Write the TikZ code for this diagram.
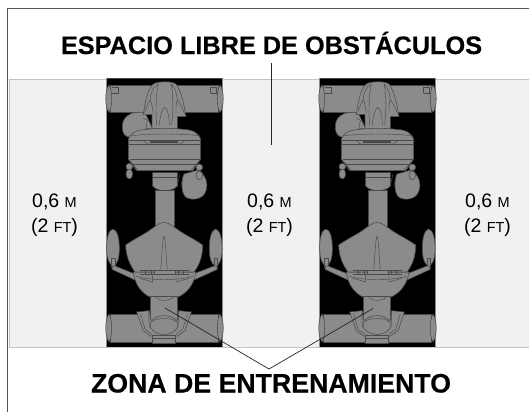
\documentclass[tikz,border=0pt]{standalone}
\usepackage{fontspec}
\setmainfont[BoldFeatures={FakeBold=0.35}]{Liberation Sans}
\definecolor{band}{HTML}{F1F1F1}
\definecolor{bandedge}{HTML}{C4C4C4}
\definecolor{part}{HTML}{8B8B8D}
\definecolor{partline}{HTML}{4A4A4C}
\definecolor{frameline}{HTML}{555555}
\newcommand{\smallunit}[1]{{\fontsize{14.5}{16}\selectfont #1}}
\tikzset{
  partshape/.style={fill=part,draw=partline,line width=0.55pt,line join=round},
  detail/.style={draw=partline,line width=0.45pt},
  darkdetail/.style={draw=partline,line width=1pt},
  titletext/.style={anchor=base,inner sep=0pt},
  measure/.style={font=\fontsize{19.5}{25}\selectfont,align=center,inner sep=0pt,anchor=base},
  leader/.style={draw=black!85,line width=0.7pt},
  machine/.pic={
    \begin{scope}[shift={(90,70)},scale=1/3]
      \fill[black] (50,25) rectangle (397,830);
      \draw[draw=part,line width=0.7pt] (50,25) -- (50,830) (397,25) -- (397,830);
      \draw[draw=partline,line width=0.7pt] (50,25) -- (397,25);
      \draw[partshape] (60,45) rectangle (386,126);
      \draw[partshape] (57,45) .. controls (44,60) and (44,112) .. (57,127) .. controls (68,112) and (68,60) .. (57,45) -- cycle;
      \draw[partshape] (390,45) .. controls (403,60) and (403,112) .. (390,127) .. controls (379,112) and (379,60) .. (390,45) -- cycle;
      \draw[detail] (66,52) -- (85,52) -- (85,70) -- (66,70) (362,70) -- (380,70) (362,52) -- (380,52) -- (380,70) (362,52) -- (362,70);
      \draw[partshape] (165,128) .. controls (130,122) and (100,135) .. (97,165) .. controls (95,190) and (105,205) .. (125,200) -- (190,180) -- cycle;
      \draw[detail] (160,145) -- (172,150) -- (168,176) -- (185,176);
      \draw[partshape] (160,134) .. controls (165,100) and (170,60) .. (190,42) .. controls (205,33) and (245,33) .. (258,42) .. controls (275,65) and (282,105) .. (288,140) -- (262,140) -- (262,180) -- (186,180) -- (186,134) -- cycle;
      \draw[detail] (164,128) .. controls (170,110) and (176,96) .. (180,90) .. controls (186,100) and (188,115) .. (190,130);
      \draw[detail] (284,132) .. controls (276,110) and (268,96) .. (262,90) .. controls (257,100) and (258,115) .. (258,128);
      \draw[detail] (180,90) .. controls (182,70) and (188,50) .. (205,42) .. controls (198,70) and (196,120) .. (200,165);
      \draw[detail] (262,90) .. controls (260,70) and (255,50) .. (243,42) .. controls (250,70) and (250,120) .. (245,165);
      \draw[detail] (208,165) .. controls (210,135) and (218,115) .. (224,112) .. controls (232,118) and (238,135) .. (238,165);
      \draw[partshape] (282,312) .. controls (274,330) and (272,370) .. (288,382) .. controls (305,392) and (340,390) .. (348,362) .. controls (356,340) and (345,312) .. (325,300) -- cycle;
      \draw[detail] (270,310) -- (262,350) (280,312) -- (272,350);
      \draw[partshape] (188,308) -- (262,308) -- (262,348) .. controls (250,366) and (200,366) .. (188,348) -- cycle;
      \draw[detail] (190,322) -- (260,322);
      \draw[partshape] (195,360) rectangle (252,470);
      \draw[partshape] (115,207) .. controls (122,188) and (140,180) .. (170,178) .. controls (205,174) and (245,174) .. (280,178) .. controls (310,180) and (325,188) .. (332,207) -- (332,268) -- (308,302) -- (140,302) -- (115,268) -- cycle;
      \draw[detail] (115,212) -- (332,212);
      \draw[detail] (118,198) .. controls (170,190) and (280,190) .. (330,198);
      \draw[darkdetail,line width=1.4pt] (180,216) -- (264,216);
      \draw[detail] (160,212) -- (172,222) -- (270,222) -- (285,212);
      \draw[detail] (117,222) -- (330,222);
      \draw[darkdetail] (120,267) -- (330,267);
      \draw[detail] (126,282) -- (322,282);
      \draw[detail] (118,270) -- (145,302) (330,270) -- (302,302);
      \draw[partshape] (118,290) circle[radius=10];
      \draw[partshape] (118,312) ellipse[x radius=10,y radius=15];
      \draw[partshape] (328,292) circle[radius=10];
      \draw[partshape] (328,316) ellipse[x radius=10,y radius=13];
      \begin{scope}[shift={(0,420)}]
        \draw[partshape] (60,313) rectangle (386,396);
        \draw[partshape] (57,312) .. controls (44,330) and (44,378) .. (57,396) .. controls (68,378) and (68,330) .. (57,312) -- cycle;
        \draw[partshape] (390,312) .. controls (403,330) and (403,378) .. (390,396) .. controls (379,378) and (379,330) .. (390,312) -- cycle;
        \draw[partshape] (69,57) .. controls (55,60) and (50,85) .. (50,115) .. controls (50,145) and (58,165) .. (69,168) .. controls (82,165) and (88,145) .. (88,115) .. controls (88,85) and (82,60) .. (69,57) -- cycle;
        \draw[partshape] (377,57) .. controls (364,60) and (358,85) .. (358,115) .. controls (358,145) and (365,165) .. (377,168) .. controls (390,165) and (396,145) .. (396,115) .. controls (396,85) and (390,60) .. (377,57) -- cycle;
        \draw[partshape] (64,145) rectangle (75,172);
        \draw[partshape] (372,145) rectangle (383,172);
        \draw[partshape] (68,168) -- (75,168) -- (150,198) -- (135,210) -- (66,178) -- cycle;
        \draw[partshape] (380,168) -- (372,168) -- (295,198) -- (312,210) -- (382,178) -- cycle;
        \draw[partshape] (130,186) .. controls (135,225) and (155,250) .. (182,262) -- (262,262) .. controls (290,250) and (312,225) .. (318,186) -- cycle;
        \draw[detail] (138,198) .. controls (165,212) and (280,212) .. (310,198);
        \draw[detail] (150,205) -- (188,216) (298,205) -- (258,216) (188,196) -- (188,216) (258,196) -- (258,216);
        \draw[partshape] (182,258) -- (262,258) -- (262,330) -- (182,330) -- cycle;
        \draw[detail] (198,262) .. controls (205,274) and (240,274) .. (248,262);
        \draw[partshape] (222,37) .. controls (205,38) and (190,55) .. (165,70) .. controls (145,82) and (125,92) .. (107,105) .. controls (108,140) and (120,165) .. (135,186) -- (312,186) .. controls (328,165) and (338,140) .. (338,105) .. controls (320,92) and (300,82) .. (280,70) .. controls (255,55) and (240,38) .. (222,37) -- cycle;
        \draw[detail] (212,178) .. controls (216,150) and (216,90) .. (222,80) .. controls (228,90) and (228,150) .. (232,178);
        \draw[partshape] (192,180) rectangle (255,193);
        \draw[detail] (150,181) -- (192,181) (150,194) -- (192,194) (255,181) -- (298,181) (255,194) -- (298,194);
        \draw[detail] (166,181) -- (166,194) (184,181) -- (184,194) (264,181) -- (264,194) (280,181) -- (280,194);
        \draw[partshape] (140,306) -- (178,302) -- (182,330) -- (262,330) -- (266,302) -- (304,306) -- (285,362) -- (262,378) -- (182,378) -- (160,362) -- cycle;
        \draw[detail] (152,312) -- (165,358) -- (186,372) (292,312) -- (278,358) -- (258,372);
        \draw[detail] (176,310) -- (178,352) (266,310) -- (264,352);
        \draw[partshape] (222,345) ellipse[x radius=42,y radius=28];
        \draw[detail] (186,335) .. controls (200,322) and (245,322) .. (258,335);
        \draw[partshape] (188,376) -- (256,376) -- (256,400) -- (188,400) -- cycle;
        \draw[detail] (190,386) -- (254,386);
      \end{scope}
    \end{scope}
  }
}
\begin{document}
\begin{tikzpicture}[x=1pt,y=-1pt]
  \useasboundingbox (0,0) rectangle (529,412);
  \clip (0,0) rectangle (529,412);
  \fill[white] (0,0) rectangle (529,412);
  \draw[frameline,line width=1pt] (7.5,412) -- (7.5,9) -- (529,9);
  \fill[band] (9,79) rectangle (529,347);
  \draw[bandedge,line width=0.9pt] (529,79) -- (9,79) -- (9,347) -- (529,347);
  \pic at (0,0) {machine};
  \pic at (213,0) {machine};
  \node[titletext,font=\fontsize{25.3}{30}\selectfont\bfseries] (titlefree) at (271.5,54) {ESPACIO LIBRE DE OBSTÁCULOS};
  \node[titletext,font=\fontsize{26.7}{30}\selectfont\bfseries] (titlezone) at (271,392.5) {ZONA DE ENTRENAMIENTO};
  \node[measure] (spaceleft) at (54.5,232) {0,6 \smallunit{M}\\(2 \smallunit{FT})};
  \node[measure] (spacemid) at (269.5,232) {0,6 \smallunit{M}\\(2 \smallunit{FT})};
  \node[measure] (spaceright) at (487.5,232) {0,6 \smallunit{M}\\(2 \smallunit{FT})};
  \coordinate (freeend) at (271,145);
  \coordinate (freestart) at (271,63);
  \coordinate (apex) at (269,369);
  \coordinate (machineone) at (165,308);
  \coordinate (machinetwo) at (373,308.5);
  \draw[leader] (freestart) -- (freeend);
  \draw[leader] (machineone) -- (apex) -- (machinetwo);
\end{tikzpicture}
\end{document}
